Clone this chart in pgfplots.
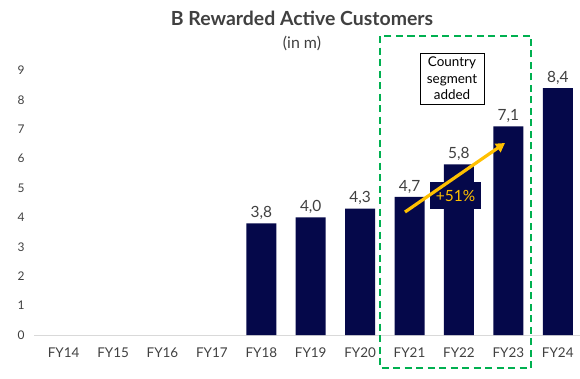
\documentclass[border=0pt]{standalone}
\usepackage{fontspec}
\setmainfont{Lato}
\usepackage{pgfplots}
\pgfplotsset{compat=1.18}
\usetikzlibrary{arrows.meta}
\definecolor{navy}{RGB}{5,8,74}
\definecolor{txt}{RGB}{64,64,64}
\definecolor{grn}{RGB}{0,176,80}
\definecolor{gold}{RGB}{255,192,0}
\definecolor{axisgray}{RGB}{217,217,217}
\begin{document}
\begin{tikzpicture}[x=1bp,y=1bp]
\path[use as bounding box] (0,0) rectangle (580,378);
\begin{axis}[
  at={(34bp,43bp)}, anchor=south west,
  scale only axis, width=546bp, height=279.3bp,
  xmin=-0.6, xmax=10.45, ymin=0, ymax=9.5,
  enlargelimits=false, clip=false,
  axis x line*=bottom, axis y line*=left,
  y axis line style={draw=none},
  x axis line style={draw=axisgray, line width=0.9bp, -},
  xtick style={draw=none}, ytick style={draw=none},
  xtick={0,...,10},
  xticklabels={FY14,FY15,FY16,FY17,FY18,FY19,FY20,FY21,FY22,FY23,FY24},
  ytick={0,...,9},
  /pgf/number format/assume math mode=true,
  tick label style={text=txt},
  yticklabel style={font=\fontsize{12}{14}\selectfont, xshift=-6bp},
  xticklabel style={font=\fontsize{13.5}{15}\selectfont, yshift=-5bp},
  ybar, bar width=30bp,
  nodes near coords,
  nodes near coords style={font=\fontsize{15.5}{17}\selectfont, text=txt,
     /pgf/number format/.cd, use comma, fixed, fixed zerofill, precision=1},
]
\addplot[fill=navy, draw=none] coordinates {(4,3.8) (5,4.0) (6,4.3) (7,4.7) (8,5.8) (9,7.1) (10,8.4)};
\end{axis}
% title
\node[font=\bfseries\fontsize{19.5}{22}\selectfont, text=txt] at (302,360) {B Rewarded Active Customers};
\node[font=\fontsize{16}{18}\selectfont, text=txt] at (302,335) {(in m)};
% green dashed box
\draw[grn, line width=2.2bp, dash pattern=on 7bp off 4.5bp] (380,342) rectangle (531,10);
% country box
\draw[black, line width=0.9bp, fill=white] (420,325) rectangle (484,274);
\node[align=center, font=\fontsize{13.5}{16.5}\selectfont, text=black] at (452,299.5) {Country\\segment\\added};
% +51% box
\fill[navy] (430,196) rectangle (481,169);
\node[font=\fontsize{15.5}{17}\selectfont, text=gold] at (455.5,182) {+51\%};
\draw[gold, line width=3.2bp, -{Triangle[length=9bp,width=10bp]}] (405,166) -- (505,235);
\end{tikzpicture}
\end{document}
